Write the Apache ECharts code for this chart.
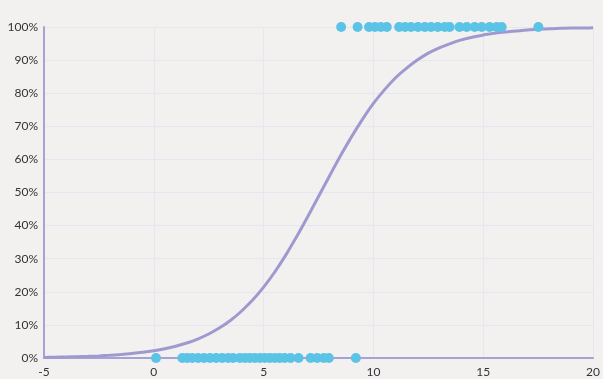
<!DOCTYPE html>
<html>
<head>
<meta charset="utf-8">
<script src="https://cdn.jsdelivr.net/npm/echarts@6/dist/echarts.min.js"></script>
<style>
  html, body { margin: 0; padding: 0; background: #f3f0f0; }
  #chart { width: 603px; height: 379px; }
</style>
</head>
<body>
<div id="chart"></div>
<script>
// Observations with outcome 1 (plotted on the 100% line)
const positiveX = [8.53, 9.28, 9.80, 10.07, 10.34, 10.61, 11.17, 11.44, 11.71, 12.03,
  12.34, 12.62, 12.93, 13.25, 13.47, 13.92, 14.25, 14.61, 14.93, 15.29, 15.61, 15.84, 17.51];
// Observations with outcome 0 (plotted on the 0% line)
const negativeX = [0.10, 1.30, 1.52, 1.75, 2.02, 2.29, 2.56, 2.84, 3.11, 3.38, 3.61, 3.92,
  4.15, 4.37, 4.60, 4.83, 5.05, 5.28, 5.51, 5.73, 5.96, 6.23, 6.59, 7.14, 7.44, 7.74, 7.97, 9.20];
// Fitted probability curve, sampled every half unit of x
const curveX = [-5, -4.5, -4, -3.5, -3, -2.5, -2, -1.5, -1, -0.5, 0, 0.5, 1, 1.5, 2, 2.5, 3, 3.5,
  4, 4.5, 5, 5.5, 6, 6.5, 7, 7.5, 8, 8.5, 9, 9.5, 10, 10.5, 11, 11.5, 12, 12.5, 13, 13.5,
  14, 14.5, 15, 15.5, 16, 16.5, 17, 17.5, 18, 18.5, 19, 19.5, 20];
const curveP = [0.0018, 0.0024, 0.0030, 0.0039, 0.0050, 0.0064, 0.0082, 0.0105, 0.0134, 0.0171,
  0.0219, 0.0279, 0.0356, 0.0452, 0.0573, 0.0725, 0.0911, 0.114, 0.142, 0.175, 0.214, 0.259,
  0.310, 0.366, 0.426, 0.488, 0.550, 0.611, 0.668, 0.721, 0.769, 0.810, 0.846, 0.875, 0.900,
  0.921, 0.937, 0.950, 0.961, 0.969, 0.976, 0.981, 0.985, 0.988, 0.991, 0.993, 0.995, 0.996,
  0.997, 0.997, 0.998];

const pointData = positiveX.map(x => [x, 1]).concat(negativeX.map(x => [x, 0]));
const curveData = curveX.map((x, i) => [x, curveP[i]]);

const chart = echarts.init(document.getElementById('chart'), null, { renderer: 'canvas' });
const labelFont = 'Lato, "DejaVu Sans", sans-serif';

chart.setOption({
  backgroundColor: '#f3f0f0',
  animation: false,
  grid: { left: 44, right: 7, top: 27, bottom: 21, containLabel: false },
  xAxis: {
    type: 'value',
    min: -5, max: 20, interval: 5,
    axisLine: { show: true, onZero: false, lineStyle: { color: '#a6a2d6', width: 2 } },
    axisTick: { show: false },
    axisLabel: { color: '#333', fontSize: 12, fontFamily: labelFont, margin: 8 },
    splitLine: { show: true, lineStyle: { color: '#e7e5ef', width: 1 } }
  },
  yAxis: {
    type: 'value',
    min: 0, max: 1, interval: 0.1,
    axisLine: { show: true, onZero: false, lineStyle: { color: '#a6a2d6', width: 2 } },
    axisTick: { show: false },
    axisLabel: {
      color: '#333', fontSize: 12, fontFamily: labelFont, margin: 6,
      padding: [0, 0, 8, 0],
      formatter: v => Math.round(v * 100) + '%'
    },
    splitLine: { show: true, lineStyle: { color: '#e7e5ef', width: 1 } }
  },
  series: [
    {
      type: 'line',
      data: curveData,
      smooth: 0.3,
      showSymbol: false,
      lineStyle: { color: '#9e9ad0', width: 3 },
      z: 2
    },
    {
      type: 'scatter',
      data: pointData,
      symbolSize: 10,
      itemStyle: { color: '#5bc3e6', opacity: 1 },
      z: 3
    }
  ]
});
</script>
</body>
</html>
